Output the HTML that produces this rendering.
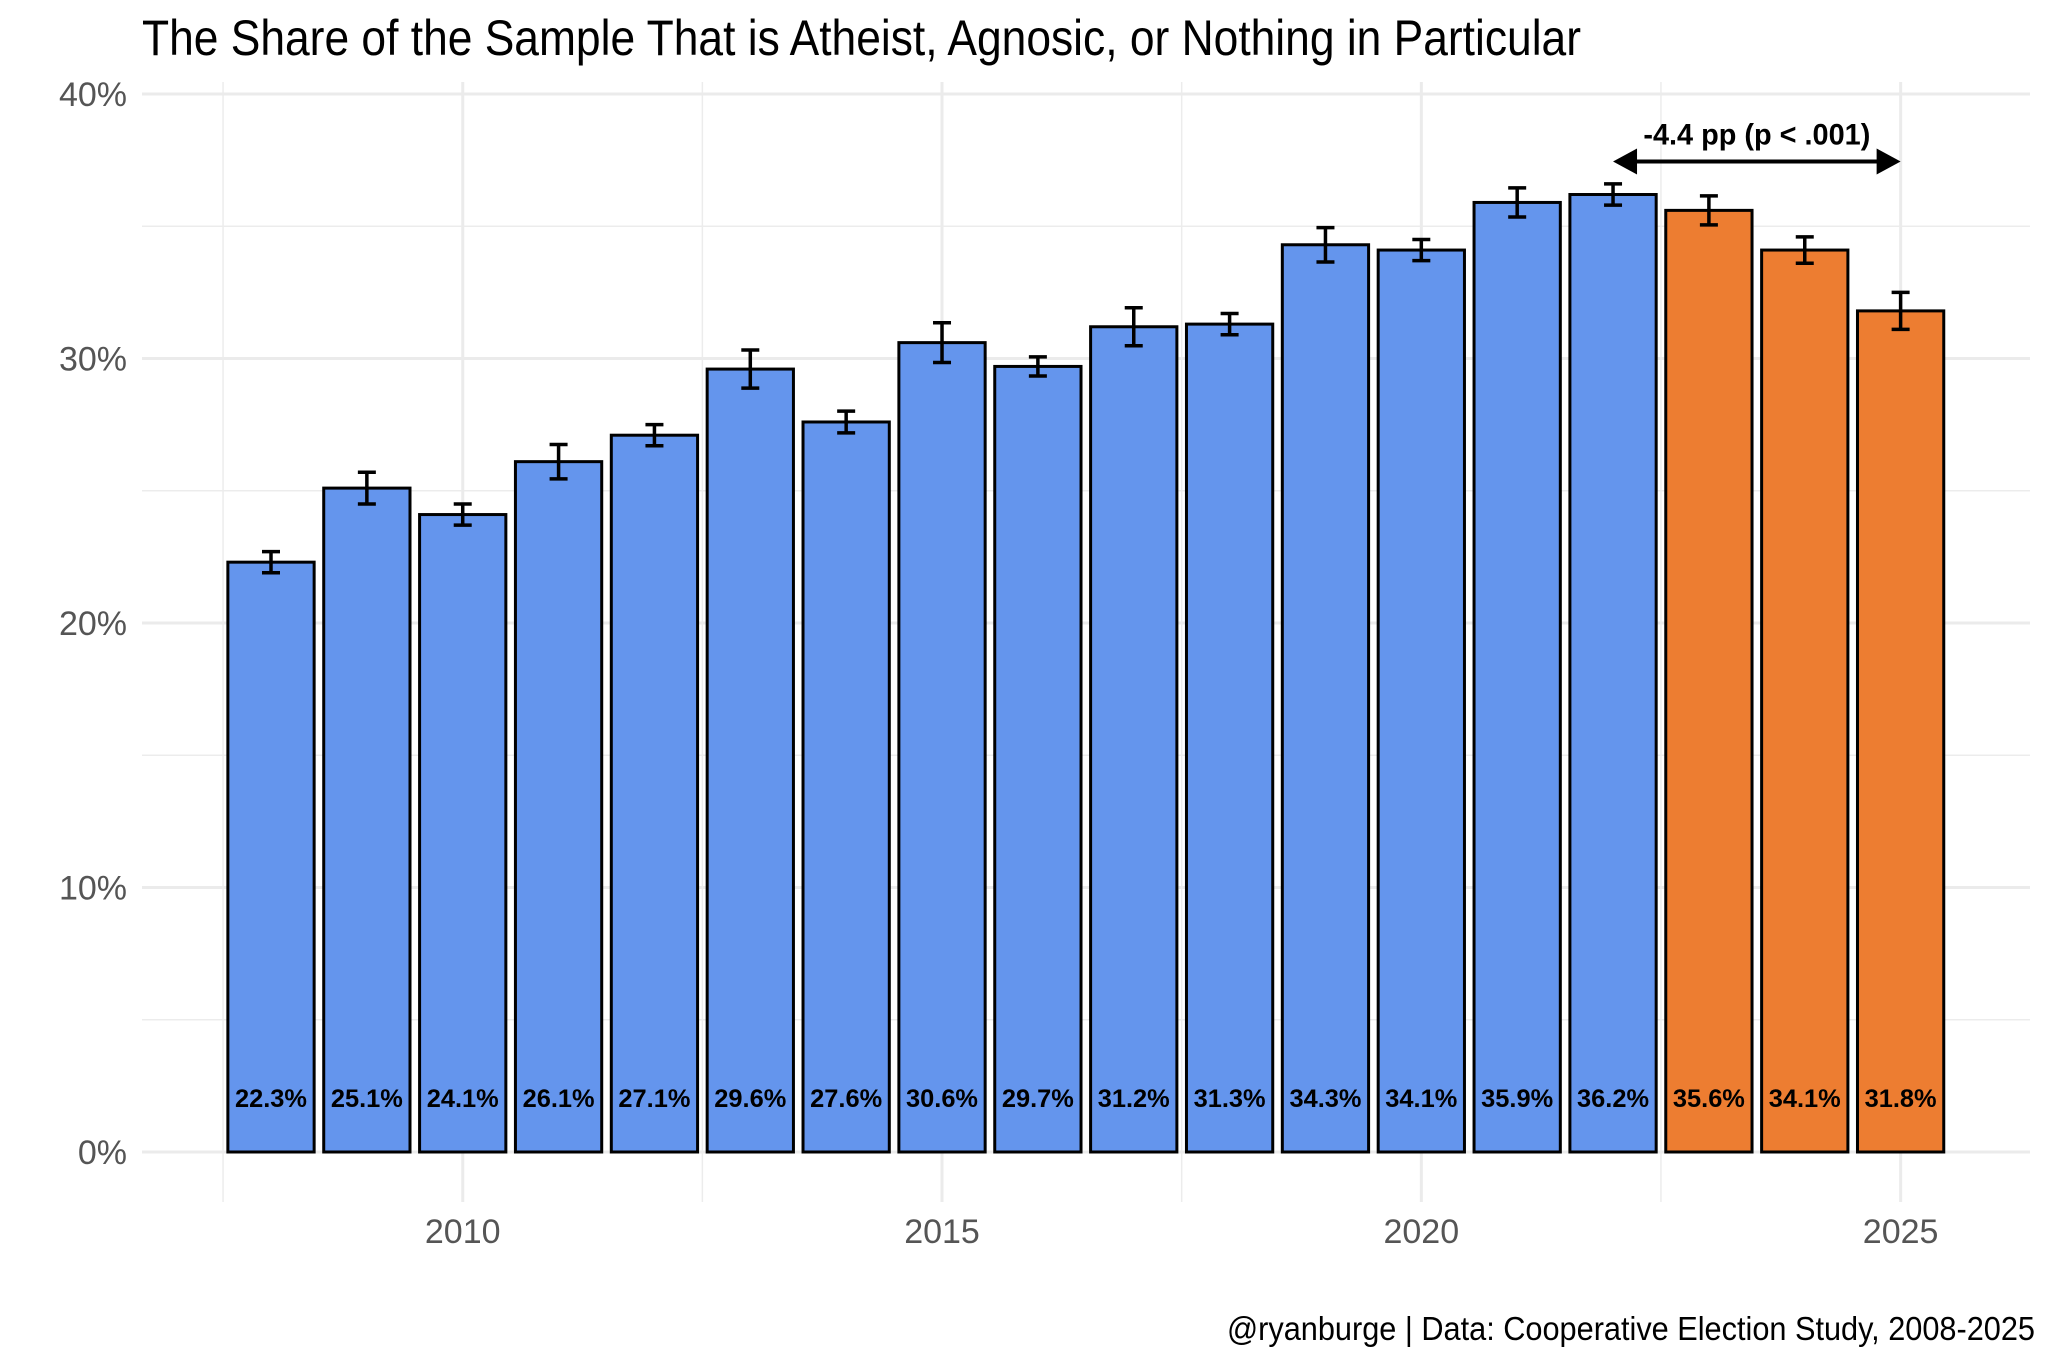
<!DOCTYPE html>
<html><head><meta charset="utf-8"><style>
html,body{margin:0;padding:0;background:#fff;}
svg{display:block;font-family:"Liberation Sans Narrow","Liberation Sans",sans-serif;}
</style></head><body>
<svg id="chart" width="2048" height="1365" viewBox="0 0 2048 1365" xmlns="http://www.w3.org/2000/svg">
<rect x="0" y="0" width="2048" height="1365" fill="#fff"/>
<g id="grid"></g>
<g id="bars"></g>
<g id="labels"></g>
<g id="axes"></g>
<text x="142" y="55" font-size="50" fill="#000" textLength="1439" lengthAdjust="spacingAndGlyphs">The Share of the Sample That is Atheist, Agnosic, or Nothing in Particular</text>
<text x="2035" y="1340" font-size="33" fill="#000" text-anchor="end" textLength="808" lengthAdjust="spacingAndGlyphs">@ryanburge | Data: Cooperative Election Study, 2008-2025</text>
<g id="annot"></g>
</svg>
<script>
const years=[2008,2009,2010,2011,2012,2013,2014,2015,2016,2017,2018,2019,2020,2021,2022,2023,2024,2025];
const values=[22.3,25.1,24.1,26.1,27.1,29.6,27.6,30.6,29.7,31.2,31.3,34.3,34.1,35.9,36.2,35.6,34.1,31.8];
const errors=[0.4,0.6,0.4,0.65,0.4,0.72,0.41,0.75,0.36,0.72,0.4,0.65,0.4,0.55,0.4,0.55,0.5,0.7];
const groups=["pre","pre","pre","pre","pre","pre","pre","pre","pre","pre","pre","pre","pre","pre","pre","post","post","post"];
const yTicks=[0,10,20,30,40];
const xTicks=[2010,2015,2020,2025];
const xMinor=[2007.5,2012.5,2017.5,2022.5];
const yMinor=[5,15,25,35];
const annotFrom=2022, annotTo=2025, annotY=37.45, annotText="-4.4 pp (p < .001)";

const NS="http://www.w3.org/2000/svg";
const x=v=>271+(v-2008)*95.86;
const y=v=>1152-v*26.45;
const L=142,R=2030,T=82,B=1202;
function mk(tag,attrs,parent){const e=document.createElementNS(NS,tag);for(const k in attrs)e.setAttribute(k,attrs[k]);parent.appendChild(e);return e;}
const grid=document.getElementById('grid'),bars=document.getElementById('bars'),labels=document.getElementById('labels'),axes=document.getElementById('axes'),annot=document.getElementById('annot');

yMinor.forEach(v=>{const l=mk('line',{x1:L,x2:R,y1:y(v),y2:y(v),stroke:'#ececec','stroke-width':1.5},grid);

});
xMinor.forEach(v=>{const l=mk('line',{x1:x(v),x2:x(v),y1:T,y2:B,stroke:'#ececec','stroke-width':1.5},grid);

});
yTicks.forEach(v=>{const l=mk('line',{x1:L,x2:R,y1:y(v),y2:y(v),stroke:'#ebebeb','stroke-width':3},grid);


const t=mk('text',{x:127,y:y(v)+12,'font-size':34,fill:'#555','text-anchor':'end'},axes);t.textContent=v+'%';

});
xTicks.forEach(v=>{const l=mk('line',{x1:x(v),x2:x(v),y1:T,y2:B,stroke:'#ebebeb','stroke-width':3},grid);


const t=mk('text',{x:x(v),y:1243,'font-size':34,fill:'#555','text-anchor':'middle'},axes);t.textContent=v;

});

const bw=0.9*95.86;
years.forEach((yr,i)=>{
 const v=values[i],cx=x(yr);
 const r=mk('rect',{x:cx-bw/2,y:y(v),width:bw,height:y(0)-y(v),fill:groups[i]==='pre'?'#6495ed':'#ed7d31',stroke:'#000','stroke-width':3},bars);
 
 
 const e=errors[i],g=mk('g',{stroke:'#000','stroke-width':3.5},bars);
 
 
 mk('line',{x1:cx,x2:cx,y1:y(v+e),y2:y(v-e)},g);
 mk('line',{x1:cx-9,x2:cx+9,y1:y(v+e),y2:y(v+e)},g);
 mk('line',{x1:cx-9,x2:cx+9,y1:y(v-e),y2:y(v-e)},g);
 const t=mk('text',{x:cx,y:1107,'font-size':25,'font-weight':'bold',fill:'#000','text-anchor':'middle',textLength:72,lengthAdjust:'spacingAndGlyphs'},labels);
 t.textContent=v.toFixed(1)+'%';
 
 
});

const ax1=x(annotFrom),ax2=x(annotTo),ay=y(annotY);
const al=mk('line',{x1:ax1+20,x2:ax2-20,y1:ay,y2:ay,stroke:'#000','stroke-width':4},annot);


const h1=mk('polygon',{points:`${ax1},${ay} ${ax1+24},${ay-13} ${ax1+24},${ay+13}`,fill:'#000'},annot);


const h2=mk('polygon',{points:`${ax2},${ay} ${ax2-24},${ay-13} ${ax2-24},${ay+13}`,fill:'#000'},annot);


const at=mk('text',{x:(ax1+ax2)/2,y:ay-17,'font-size':30,'font-weight':'bold',fill:'#000','text-anchor':'middle',textLength:227,lengthAdjust:'spacingAndGlyphs'},annot);
at.textContent=annotText;


</script>
</body></html>
